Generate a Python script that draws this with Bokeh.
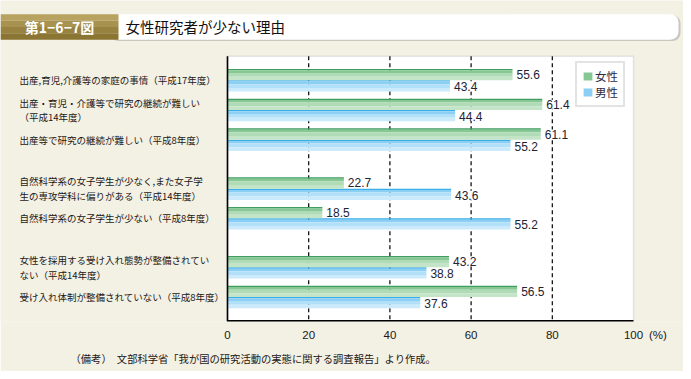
from bokeh.plotting import figure
from bokeh.models import (Range1d, LinearAxis, FixedTicker, ColumnDataSource,
                          Legend, LegendItem, Label, LabelSet, BoxAnnotation, Title)
from bokeh.transform import dodge
from bokeh.core.properties import value
from bokeh.embed import file_html
from bokeh.resources import INLINE

# ---------------- data ----------------
categories = [
    "出産,育児,介護等の家庭の事情（平成17年度）",
    "出産・育児・介護等で研究の継続が難しい\n（平成14年度）",
    "出産等で研究の継続が難しい（平成8年度）",
    "自然科学系の女子学生が少なく,また女子学\n生の専攻学科に偏りがある（平成14年度）",
    "自然科学系の女子学生が少ない（平成8年度）",
    "女性を採用する受け入れ態勢が整備されてい\nない（平成14年度）",
    "受け入れ体制が整備されていない（平成8年度）",
]
section = [0, 0, 0, 1, 1, 2, 2]
women = [55.6, 61.4, 61.1, 22.7, 18.5, 43.2, 56.5]
men = [43.4, 44.4, 55.2, 43.6, 55.2, 38.8, 37.6]
series_names = ["女性", "男性"]
axis_ticks = [0, 20, 40, 60, 80, 100]
fig_no = "第1−6−7図"
title_text = "女性研究者が少ない理由"
unit_text = "(%)"
note_text = "（備考）　文部科学省「我が国の研究活動の実態に関する調査報告」より作成。"

# ---------------- layout / styling ----------------
BG = "#f3f0e4"
TXT = "#231815"
JP = "Noto Sans CJK JP"
W, H = 683, 371
CL, CR, CT, CB = 227, 633, 57, 328      # chart box in pixels
BAR_SCALE_END = 79.2                     # bar data value at the right edge of the chart box
SECTION_GAP = 0.65
BAR_H = 0.38
Y_UNIT, Y0_PX = 30.34, 81.5

KX = (CR - CL) / BAR_SCALE_END
KP = (CR - CL) / 100.0


def dxp(px):          # pixel -> percent-axis coordinate
    return (px - CL) / KP


def dy(py):           # pixel -> y coordinate
    return (py - Y0_PX) / Y_UNIT


pos = [i + s * SECTION_GAP for i, s in enumerate(section)]

src = ColumnDataSource(dict(
    pos=pos, women=women, men=men,
    wlab=["%.1f" % v for v in women], mlab=["%.1f" % v for v in men],
))

p = figure(width=W, height=H, output_backend="svg", toolbar_location=None,
           x_range=Range1d(-CL / KX, BAR_SCALE_END + (W - CR) / KX),
           y_range=Range1d(dy(CB), dy(0)),
           x_axis_location=None, y_axis_location=None,
           min_border_left=0, min_border_right=0, min_border_top=0,
           min_border_bottom=H - CB,
           background_fill_color=BG, border_fill_color=BG,
           outline_line_color=None)
p.grid.visible = False
p.extra_x_ranges = {"pct": Range1d(dxp(0), dxp(W))}

# white chart box with grey border
p.add_layout(BoxAnnotation(left=0, right=100, top=dy(CT), bottom=dy(CB),
                           x_range_name="pct", fill_color="white", fill_alpha=1,
                           line_color="#b4b4b4", line_width=1.5, level="image"))

# x axis (labels only), "(%)" as an extra tick label
unit_tick = 106
xaxis = LinearAxis(x_range_name="pct", ticker=FixedTicker(ticks=axis_ticks + [unit_tick]),
                   major_label_overrides={unit_tick: unit_text},
                   axis_line_color=None,
                   major_tick_line_color=None, minor_tick_line_color=None,
                   major_label_standoff=1,
                   major_label_text_font="Liberation Sans",
                   major_label_text_font_size="11.5px",
                   major_label_text_color=TXT)
p.add_layout(xaxis, "below")

# dashed vertical grid lines
grid_ticks = axis_ticks[1:-1]
p.segment(x0=grid_ticks, x1=grid_ticks, y0=[dy(CT)] * len(grid_ticks),
          y1=[dy(CB)] * len(grid_ticks), x_range_name="pct",
          line_color="black", line_dash="4 3", line_width=1.2, level="underlay")

# value labels with white background (under the bars, above the grid)
lab_common = dict(text_font=value("Liberation Sans"), text_font_size="12px",
                  text_color="#222233", text_baseline="middle", text_align="left",
                  x_offset=4, background_fill_color="white", level="underlay")
p.add_layout(LabelSet(x="women", y=dodge("pos", -BAR_H / 2, range=p.y_range),
                      text="wlab", source=src, **lab_common))
p.add_layout(LabelSet(x="men", y=dodge("pos", BAR_H / 2, range=p.y_range),
                      text="mlab", source=src, y_offset=-1, **lab_common))

# bars with banded "gradient"
bands = [(0.0, 0.12), (0.12, 0.35), (0.35, 0.68), (0.68, 1.0)]
green = ["#3f9d60", "#86c794", "#afdbb6", "#c3e4c7"]
blue = ["#3aaee8", "#8ccff5", "#b3e0f9", "#cbeafb"]
mid_r = {}
for (f0, f1), gc, bc in zip(bands, green, blue):
    rg = p.hbar(y=dodge("pos", -BAR_H + (f0 + f1) / 2 * BAR_H, range=p.y_range),
                right="women", left=0, height=(f1 - f0) * BAR_H, source=src,
                fill_color=gc, line_color=None)
    rb = p.hbar(y=dodge("pos", (f0 + f1) / 2 * BAR_H, range=p.y_range),
                right="men", left=0, height=(f1 - f0) * BAR_H, source=src,
                fill_color=bc, line_color=None)
    if f0 == 0.12:
        mid_r = {"w": rg, "m": rb}

# axis lines (left and bottom)
p.segment(x0=[0, 0], x1=[0, 100], y0=[dy(CT), dy(CB)], y1=[dy(CB), dy(CB)],
          x_range_name="pct", line_color="black", line_width=[1.6, 3])

legend = Legend(items=[LegendItem(label=series_names[0], renderers=[mid_r["w"]]),
                       LegendItem(label=series_names[1], renderers=[mid_r["m"]])],
                location=(575, CB - 114), orientation="vertical",
                border_line_color="#c8c8c8", border_line_width=2,
                background_fill_color="white", background_fill_alpha=1,
                padding=5, spacing=0, margin=0,
                glyph_width=11, glyph_height=10, label_standoff=2,
                label_height=11, label_text_font=JP,
                label_text_font_size="11.5px", label_text_color="#2a2a44")
p.add_layout(legend)

# category labels, left aligned
for c, y in zip(categories, pos):
    p.add_layout(Label(x=dxp(19), y=y, x_range_name="pct", text=c, text_align="left",
                       text_baseline="middle", text_font=JP,
                       text_font_size="9.5px", text_color=TXT,
                       text_line_height=1.05))

# header
p.add_layout(BoxAnnotation(left=dxp(110), right=dxp(680), top=dy(15), bottom=dy(41.5),
                           x_range_name="pct", fill_color="#c9c7c0", fill_alpha=1,
                           border_radius=8, line_color=None))
p.add_layout(BoxAnnotation(left=dxp(110), right=dxp(678), top=dy(14), bottom=dy(40),
                           x_range_name="pct", fill_color="white", fill_alpha=1,
                           border_radius=8, line_color=None))
gold = ["#b7a260", "#a8924f", "#98823f", "#8b7533"]
gy = [14, 20.5, 27, 33.5, 40]
for i, c in enumerate(gold):
    p.add_layout(BoxAnnotation(left=dxp(0), right=dxp(118), top=dy(gy[i]),
                               bottom=dy(gy[i + 1]), x_range_name="pct",
                               fill_color=c, fill_alpha=1, line_color=None))

p.add_layout(Label(x=dxp(59), y=dy(27), x_range_name="pct",
                   text=fig_no, text_align="center", text_baseline="middle",
                   text_font=JP, text_font_style="bold",
                   text_font_size="14px", text_color="white"))
p.add_layout(Label(x=dxp(125), y=dy(27), x_range_name="pct",
                   text=title_text, text_align="left", text_baseline="middle",
                   text_font=JP, text_font_size="14.5px", text_color="#111111"))

# footnote
p.add_layout(Title(text=note_text, align="left", offset=70, standoff=11,
                   text_font=JP, text_font_style="normal", text_font_size="10.3px",
                   text_color=TXT), "below")

open("out.html", "w").write(file_html(p, INLINE))
